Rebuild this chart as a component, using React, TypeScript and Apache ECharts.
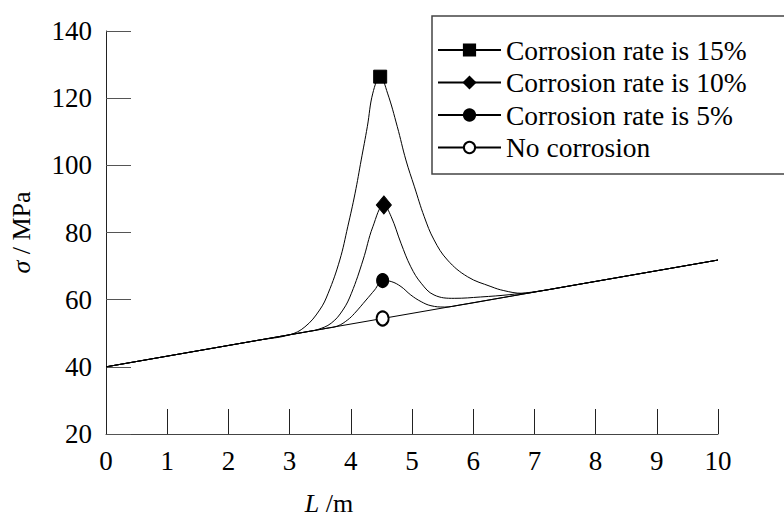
import React, { useEffect, useRef } from "react";
import * as echarts from "echarts";

const xTicks = [0, 1, 2, 3, 4, 5, 6, 7, 8, 9, 10];
const yTicks = [20, 40, 60, 80, 100, 120, 140];

const seriesNames = [
  "Corrosion rate is 15%",
  "Corrosion rate is 10%",
  "Corrosion rate is 5%",
  "No corrosion",
];

// [L (m), sigma (MPa)]
const rate15: number[][] = [
  [0, 40], [2.5, 47.95], [3.0, 49.54], [3.25, 51.9], [3.49, 56.9], [3.63, 61.9],
  [3.82, 71.8], [3.95, 81.7], [4.07, 91.7], [4.17, 101.6], [4.27, 111.5],
  [4.36, 121.5], [4.48, 126.4], [4.6, 121.5], [4.76, 111.5], [4.9, 101.6],
  [5.04, 93.6], [5.2, 84.7], [5.36, 77.8], [5.58, 71.8], [5.91, 66.8],
  [6.29, 63.9], [6.5, 62.7], [6.8, 61.9], [7.1, 62.6], [7.5, 63.85], [10, 71.8],
];
const rate10: number[][] = [
  [0, 40], [3.0, 49.54], [3.3, 50.5], [3.46, 51.1], [3.68, 53.0], [3.87, 56.9],
  [4.01, 61.9], [4.2, 71.8], [4.36, 81.7], [4.54, 88.2], [4.66, 84.7],
  [4.82, 76.8], [4.98, 69.8], [5.15, 64.9], [5.36, 61.4], [5.69, 60.4],
  [6.12, 60.8], [6.6, 61.5], [7.1, 62.6], [7.5, 63.85], [10, 71.8],
];
const rate5: number[][] = [
  [0, 40], [3.3, 50.5], [3.6, 51.45], [3.79, 52.2], [3.95, 54.0], [4.06, 55.9],
  [4.25, 59.9], [4.39, 62.9], [4.52, 65.7], [4.66, 65.4], [4.82, 63.9],
  [4.98, 61.4], [5.15, 59.4], [5.31, 58.2], [5.53, 57.8], [5.8, 58.45],
  [6.2, 59.7], [10, 71.8],
];
const noCorrosion: number[][] = [[0, 40], [4.52, 54.4], [10, 71.8]];

const peakIndex = [12, 9, 8, 1];
const symbols = ["rect", "diamond", "circle", "emptyCircle"];
const peakSizes: (number | number[])[] = [13, [15, 18], [12, 14], [12, 14]];

const FONT = "Liberation Serif";

export default function App() {
  const ref = useRef<HTMLDivElement>(null);
  useEffect(() => {
    if (!ref.current) return;
    const chart = echarts.init(ref.current, undefined, { renderer: "svg" });
    const all = [rate15, rate10, rate5, noCorrosion];
    const series = all.map((d, si) => ({
      name: seriesNames[si],
      type: "line",
      smooth: si === 3 ? false : 0.4,
      symbol: symbols[si],
      symbolSize: 0,
      showAllSymbol: true,
      color: "#000",
      itemStyle: { color: "#000", borderColor: "#000", borderWidth: 1 },
      lineStyle: { color: "#000", width: 1 },
      data: d.map((p, i) =>
        i === peakIndex[si] ? { value: p, symbolSize: peakSizes[si] } : p
      ),
      z: 10 - si,
    }));
    chart.setOption({
      animation: false,
      textStyle: { fontFamily: FONT },
      grid: { left: 104, right: 66, top: 31, bottom: 82 },
      xAxis: {
        type: "value",
        min: 0,
        max: 10,
        interval: 1,
        axisLine: { lineStyle: { color: "#444", width: 1 } },
        axisTick: { inside: true, length: 25, lineStyle: { color: "#222" } },
        splitLine: { show: false },
        axisLabel: {
          margin: 13,
          fontSize: 27,
          fontFamily: FONT,
          color: "#000",
          formatter: (v: number) => (xTicks.includes(v) ? String(v) : ""),
        },
      },
      yAxis: {
        type: "value",
        min: 20,
        max: 140,
        interval: 20,
        name: "{i|σ}{n| / MPa}",
        nameLocation: "middle",
        nameRotate: 90,
        nameGap: 72,
        nameTextStyle: {
          fontSize: 26,
          fontFamily: FONT,
          color: "#000",
          rich: {
            i: { fontSize: 26, fontFamily: FONT, fontStyle: "italic", color: "#000" },
            n: { fontSize: 26, fontFamily: FONT, color: "#000" },
          },
        },
        axisLine: { show: true, lineStyle: { color: "#222", width: 1 } },
        axisTick: { inside: true, length: 25, lineStyle: { color: "#555" } },
        splitLine: { show: false },
        axisLabel: {
          margin: 14,
          fontSize: 27,
          fontFamily: FONT,
          color: "#000",
          formatter: (v: number) => (yTicks.includes(v) ? String(v) : ""),
        },
      },
      legend: {
        orient: "vertical",
        left: 437,
        top: 36,
        padding: 0,
        itemWidth: 63,
        itemHeight: 14,
        itemGap: 4.5,
        data: seriesNames,
        textStyle: {
          fontSize: 27.5,
          lineHeight: 28,
          fontFamily: FONT,
          color: "#000",
        },
      },
      graphic: [
        {
          type: "rect",
          shape: { x: 432, y: 16, width: 400, height: 158 },
          style: { fill: "none", stroke: "#444", lineWidth: 1.5 },
          z: 100,
        },
        {
          type: "text",
          x: 329,
          y: 503,
          style: {
            text: "{i|L}{n| /m}",
            align: "center",
            verticalAlign: "middle",
            fontSize: 26,
            fontFamily: FONT,
            fill: "#000",
            rich: {
              i: { fontSize: 26, lineHeight: 22, fontFamily: FONT, fontStyle: "italic", fill: "#000" },
              n: { fontSize: 26, lineHeight: 22, fontFamily: FONT, fill: "#000" },
            },
          },
        },
      ],
      series,
    });
    return () => chart.dispose();
  }, []);
  return <div ref={ref} style={{ width: 784, height: 516, position: "absolute", left: 0, top: 0 }} />;
}
